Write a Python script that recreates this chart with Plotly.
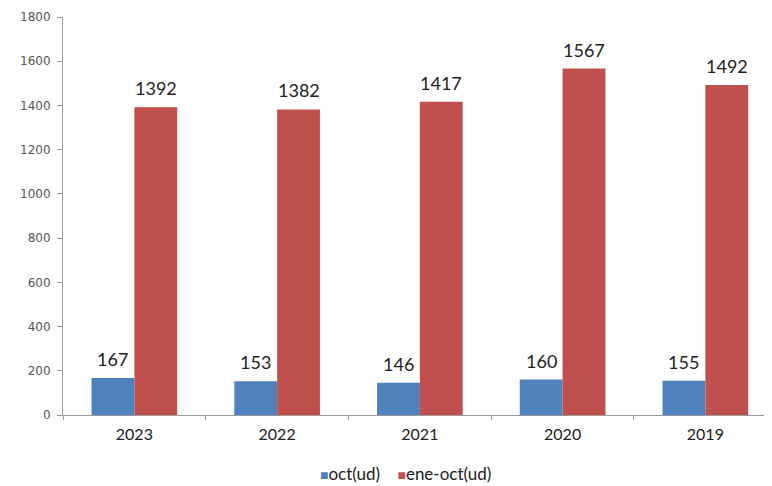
import plotly.graph_objects as go

years = ["2023", "2022", "2021", "2020", "2019"]
oct_ud = [167, 153, 146, 160, 155]
ene_oct_ud = [1392, 1382, 1417, 1567, 1492]
series_names = ["oct(ud)", "ene-oct(ud)"]
y_ticks = [0, 200, 400, 600, 800, 1000, 1200, 1400, 1600, 1800]

blue = "#4F81BD"
red = "#C0504D"
colors = [blue, red]

fig = go.Figure()
fig.add_trace(go.Bar(x=years, y=oct_ud, name=series_names[0], marker_color=blue,
                     marker_line_width=0))
fig.add_trace(go.Bar(x=years, y=ene_oct_ud, name=series_names[1], marker_color=red,
                     marker_line_width=0))

label_font = dict(family="Lato", size=18, color="#222222")
annotations = []
for i, v in enumerate(oct_ud):
    annotations.append(dict(x=i, y=v, xref="x", yref="y", text=str(v), xshift=-21.5, yshift=6,
                            showarrow=False, yanchor="bottom", font=label_font))
for i, v in enumerate(ene_oct_ud):
    annotations.append(dict(x=i, y=v, xref="x", yref="y", text=str(v), xshift=21.5, yshift=6,
                            showarrow=False, yanchor="bottom", font=label_font))

# page body has an 8px default margin: compensate in margins
W, H = 772, 486
ml, mt, mb, mr = 55, 9, 79, 0
pw, ph = W - ml - mr, H - mt - mb

# legend drawn as text (compact Excel-style legend)
legend_text = "    ".join(
    f"<span style='color:{c}; font-size:14px'>■</span>{n}" for c, n in zip(colors, series_names)
)
annotations.append(dict(x=(405 - 8 - ml) / pw, y=(H - mb - (473 - 8)) / ph,
                        xref="paper", yref="paper",
                        text=legend_text, showarrow=False, xanchor="center", yanchor="middle",
                        font=dict(family="Lato", size=17, color="#222222")))

fig.update_layout(
    width=W, height=H,
    margin=dict(l=ml, r=mr, t=mt, b=mb),
    paper_bgcolor="white", plot_bgcolor="white",
    barmode="group", bargap=0.4, bargroupgap=0,
    showlegend=False,
    annotations=annotations,
    xaxis=dict(type="category", range=[-0.5, 4.523], showline=True, automargin=False,
               linecolor="#9a9a9a", linewidth=1, ticks="outside", ticklen=4,
               tickcolor="#9a9a9a", tickson="boundaries", showgrid=False,
               ticklabelstandoff=5,
               tickfont=dict(family="Lato", size=16, color="#222222")),
    yaxis=dict(range=[0, 1800], tickvals=y_ticks, showline=True, automargin=False,
               linecolor="#9a9a9a", linewidth=1, ticks="outside", ticklen=5,
               tickcolor="#9a9a9a", showgrid=False, zeroline=False,
               ticklabelstandoff=4,
               tickfont=dict(family="DejaVu Sans", size=12, color="#555555")),
)

fig.write_html("out.html")
